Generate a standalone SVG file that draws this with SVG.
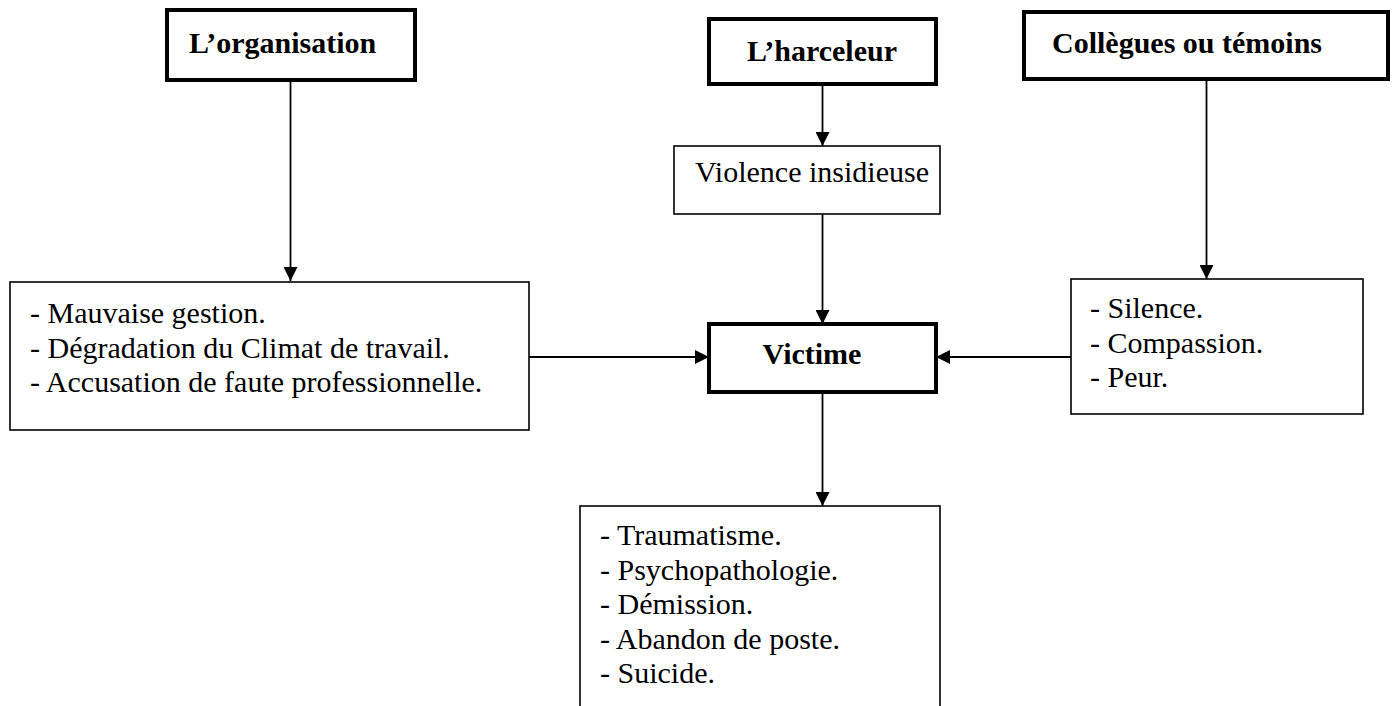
<svg xmlns="http://www.w3.org/2000/svg" width="1393" height="706" viewBox="0 0 1393 706">
<style>
.thick{fill:#fff;stroke:#000;stroke-width:4}
.thin{fill:#fff;stroke:#000;stroke-width:1.6}
.t{font-family:"Liberation Serif","Times New Roman",serif;font-size:30px;fill:#000}
.b{font-weight:bold}
.c{fill:none;stroke:#000;stroke-width:1.8}
</style>
<defs>
<marker id="ah" markerUnits="userSpaceOnUse" markerWidth="14" markerHeight="14" viewBox="0 0 14 14" refX="14" refY="7" orient="auto">
<path d="M0,0 L14,7 L0,14 Z" fill="#000"/>
</marker>
</defs>
<rect width="1393" height="706" fill="#fff"/>
<g id="connectors">
<path class="c" d="M290.5,80 V281" marker-end="url(#ah)"/>
<path class="c" d="M822.5,84 V146" marker-end="url(#ah)"/>
<path class="c" d="M822.5,214 V324" marker-end="url(#ah)"/>
<path class="c" d="M822.5,392 V506" marker-end="url(#ah)"/>
<path class="c" d="M1206.5,79 V279" marker-end="url(#ah)"/>
<path class="c" d="M529,357 H709" marker-end="url(#ah)"/>
<path class="c" d="M1071,357 H936" marker-end="url(#ah)"/>
</g>
<g id="organisation">
<rect class="thick" x="167" y="10" width="248" height="70"/>
<text class="t b" x="189" y="53">L’organisation</text>
</g>
<g id="harceleur">
<rect class="thick" x="709" y="19" width="227" height="65"/>
<text class="t b" x="822" y="61" text-anchor="middle">L’harceleur</text>
</g>
<g id="collegues">
<rect class="thick" x="1024" y="12" width="364" height="67"/>
<text class="t b" x="1052" y="53">Collègues ou témoins</text>
</g>
<g id="violence">
<rect class="thin" x="674" y="146" width="266" height="68"/>
<text class="t" x="695" y="182">Violence insidieuse</text>
</g>
<g id="org-effets">
<rect class="thin" x="10" y="282" width="519" height="148"/>
<text class="t" x="30" y="323">- Mauvaise gestion.</text>
<text class="t" x="30" y="357.5">- Dégradation du Climat de travail.</text>
<text class="t" x="30" y="392">- Accusation de faute professionnelle.</text>
</g>
<g id="victime">
<rect class="thick" x="709" y="324" width="227" height="68"/>
<text class="t b" x="812" y="364" text-anchor="middle">Victime</text>
</g>
<g id="collegues-effets">
<rect class="thin" x="1071" y="279" width="292" height="135"/>
<text class="t" x="1090" y="318">- Silence.</text>
<text class="t" x="1090" y="352.5">- Compassion.</text>
<text class="t" x="1090" y="387">- Peur.</text>
</g>
<g id="consequences">
<rect class="thin" x="580" y="506" width="360" height="210"/>
<text class="t" x="600" y="545">- Traumatisme.</text>
<text class="t" x="600" y="579.5">- Psychopathologie.</text>
<text class="t" x="600" y="614">- Démission.</text>
<text class="t" x="600" y="648.5">- Abandon de poste.</text>
<text class="t" x="600" y="683">- Suicide.</text>
</g>
</svg>
